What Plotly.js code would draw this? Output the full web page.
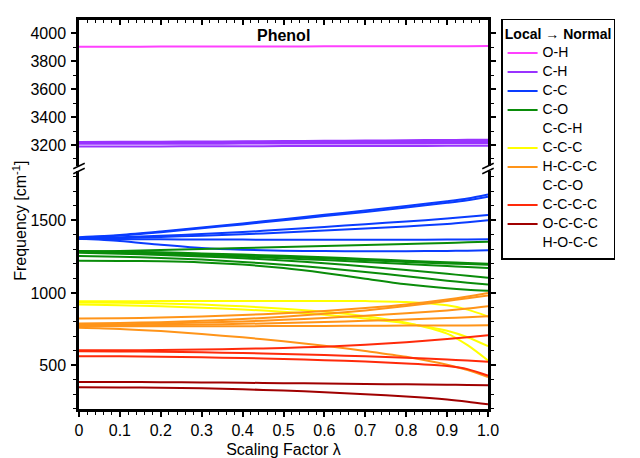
<!DOCTYPE html>
<html>
<head>
<meta charset="utf-8">
<script src="https://cdn.plot.ly/plotly-3.0.1.min.js"></script>
<style>html,body{margin:0;padding:0;background:#fff;}#chart{width:640px;height:458px;}</style>
</head>
<body>
<div id="chart"></div>
<script>
// Scaling factor grid
const LAMBDA = [0, 0.1, 0.2, 0.3, 0.4, 0.5, 0.6, 0.7, 0.8, 0.9, 0.95, 1.0];
const X_TICKS = [0, 0.1, 0.2, 0.3, 0.4, 0.5, 0.6, 0.7, 0.8, 0.9, 1.0];
const X_TICK_LABELS = ['0', '0.1', '0.2', '0.3', '0.4', '0.5', '0.6', '0.7', '0.8', '0.9', '1.0'];

// Upper panel (high frequencies)
const OH = [
  [3902,3902,3903,3903,3904,3904,3905,3905,3906,3906,3906,3907]
];
const CH = [
  [3222,3223,3224,3225,3226,3228,3230,3232,3234,3236,3237,3238],
  [3218,3219,3220,3221,3222,3223,3224,3225,3226,3228,3229,3230],
  [3214,3214,3215,3215,3216,3217,3218,3219,3220,3221,3222,3222],
  [3209,3209,3209,3209,3210,3210,3210,3211,3211,3212,3212,3212],
  [3190,3190,3190,3191,3191,3192,3192,3193,3193,3194,3195,3195]
];

// Lower panel
const CC = [
  [1385,1400,1424,1451,1479,1509,1539,1569,1600,1633,1652,1680],
  [1380,1396,1419,1446,1473,1501,1530,1559,1590,1622,1640,1664],
  [1378,1384,1394,1406,1420,1437,1455,1474,1493,1513,1525,1537],
  [1374,1378,1386,1395,1405,1417,1430,1444,1459,1476,1488,1502],
  [1372,1371,1370,1369,1368,1367,1367,1367,1367,1368,1369,1370],
  [1375,1358,1332,1310,1298,1292,1289,1288,1288,1290,1292,1295]
];
const CO = [
  [1285,1290,1296,1303,1310,1317,1324,1331,1338,1345,1349,1353],
  [1290,1286,1280,1273,1265,1256,1246,1235,1223,1212,1207,1202],
  [1288,1283,1276,1268,1259,1249,1238,1226,1214,1204,1199,1195],
  [1282,1276,1268,1260,1250,1239,1227,1214,1200,1186,1179,1172],
  [1278,1271,1262,1252,1240,1224,1205,1183,1158,1132,1119,1105],
  [1255,1250,1242,1230,1214,1195,1172,1145,1115,1085,1071,1059],
  [1222,1221,1218,1211,1196,1172,1138,1098,1060,1032,1022,1015]
];
const CCC = [
  [943,943,944,944,945,945,945,944,938,915,885,838],
  [921,916,908,898,886,870,850,824,790,740,695,633],
  [935,933,928,920,908,892,870,840,795,720,640,534]
];
const HCCC = [
  [824,826,831,838,848,860,876,896,921,955,976,1000],
  [790,793,799,808,820,836,856,880,910,945,963,983],
  [783,785,789,796,804,815,828,843,860,880,893,909],
  [776,777,779,782,787,793,800,808,817,827,833,840],
  [770,770,770,771,771,772,773,774,775,776,776,777],
  [760,752,737,717,694,667,636,600,560,505,468,420]
];
const CCCC = [
  [605,605,607,610,615,621,630,643,660,682,695,709],
  [598,597,595,591,586,580,572,563,553,541,534,526],
  [564,563,560,556,551,545,537,527,514,496,475,430]
];
const OCCC = [
  [387,386,385,383,381,378,376,373,370,367,366,364],
  [350,349,347,343,336,327,316,302,286,265,250,232]
];

// Legend labels
const LEGEND_LABELS = ['O-H','C-H','C-C','C-O','C-C-H','C-C-C','H-C-C-C','C-C-O','C-C-C-C','O-C-C-C','H-O-C-C'];

const FONT = 'Liberation Sans, Arial, sans-serif';
const traces = [];
const lbl = s => '<span style="font-size:14px">' + s + '</span>';

function addGroup(name, series, color, upper) {
  series.forEach((ys, i) => {
    traces.push({
      type: 'scatter', mode: 'lines',
      x: LAMBDA, y: ys,
      xaxis: upper ? 'x2' : 'x', yaxis: upper ? 'y2' : 'y',
      line: {color: color, width: 2, shape: 'spline', smoothing: 0.8},
      name: lbl(name), legendgroup: name, showlegend: i === 0,
      hoverinfo: 'x+y+name'
    });
  });
}
function addLabelOnly(name) {
  traces.push({
    type: 'scatter', mode: 'lines', x: [null], y: [null],
    xaxis: 'x', yaxis: 'y',
    line: {color: 'rgba(0,0,0,0)', width: 2},
    name: lbl(name), legendgroup: name, showlegend: true, hoverinfo: 'skip'
  });
}

addGroup(LEGEND_LABELS[0], OH, '#ff40ff', true);
addGroup(LEGEND_LABELS[1], CH, '#9933ff', true);
addGroup(LEGEND_LABELS[2], CC, '#0a3cff', false);
addGroup(LEGEND_LABELS[3], CO, '#0a8c0a', false);
addLabelOnly(LEGEND_LABELS[4]);
addGroup(LEGEND_LABELS[5], CCC, '#ffff00', false);
addGroup(LEGEND_LABELS[6], HCCC, '#ff9419', false);
addLabelOnly(LEGEND_LABELS[7]);
addGroup(LEGEND_LABELS[8], CCCC, '#ff2a0a', false);
addGroup(LEGEND_LABELS[9], OCCC, '#a00000', false);
addLabelOnly(LEGEND_LABELS[10]);

const LOW_RANGE = [200, 1841];
const UP_RANGE = [3050, 4093];
const LOW_DOM = [0, 0.6118];
const UP_DOM = [0.6247, 1];

const axBase = {showline: true, linecolor: '#000', linewidth: 2.5, zeroline: false, showgrid: false};
const tickF = {family: FONT, size: 16, color: '#000'};
const major = {ticklen: 5, tickwidth: 1.5, tickcolor: '#000'};
function minorT(d, dir) { return {dtick: d, ticks: dir, ticklen: 3, tickwidth: 1, tickcolor: '#000'}; }

// axis-break marks on both frame sides (paper coordinates of the plot area)
const shapes = [];
[0, 1].forEach(px => {
  [UP_DOM[0], LOW_DOM[1]].forEach(py => {
    shapes.push({type: 'line', xref: 'paper', yref: 'paper',
      x0: px - 0.014, x1: px + 0.014, y0: py - 0.007, y1: py + 0.007, line: {color: '#000', width: 1.5}});
  });
});

const layout = {
  width: 640, height: 458,
  margin: {l: 79, r: 152, t: 20, b: 49},
  paper_bgcolor: '#fff', plot_bgcolor: 'rgba(0,0,0,0)',
  font: {family: FONT, color: '#000'},
  showlegend: true,
  xaxis: Object.assign({}, axBase, major, {
    domain: [0, 1], anchor: 'y', range: [0, 1],
    tickmode: 'array', tickvals: X_TICKS, ticktext: X_TICK_LABELS,
    ticks: 'outside', minor: minorT(0.02, 'outside'),
    tickfont: tickF,
    title: {text: 'Scaling Factor λ', font: {family: FONT, size: 16}, standoff: 6}
  }),
  xaxis2: Object.assign({}, axBase, major, {
    domain: [0, 1], anchor: 'y2', side: 'top', range: [0, 1],
    tickmode: 'array', tickvals: X_TICKS,
    ticks: 'inside', minor: minorT(0.02, 'inside'),
    showticklabels: false
  }),
  yaxis: Object.assign({}, axBase, major, {
    domain: LOW_DOM, anchor: 'x', range: LOW_RANGE, dtick: 500, tick0: 0, mirror: 'ticks',
    ticks: 'outside', minor: minorT(100, 'outside'),
    tickfont: tickF, ticklabelstandoff: 2
  }),
  yaxis2: Object.assign({}, axBase, major, {
    domain: UP_DOM, anchor: 'x2', range: UP_RANGE, dtick: 200, tick0: 0, mirror: 'ticks',
    ticks: 'outside', minor: minorT(100, 'outside'),
    tickfont: tickF, ticklabelstandoff: 2
  }),
  legend: {
    x: 1.032, y: 1.003, xanchor: 'left', yanchor: 'top',
    bordercolor: '#000', borderwidth: 1.5, bgcolor: '#fff',
    font: {family: FONT, size: 11, color: '#000'},
    title: {text: '<b>Local → Normal</b>', side: 'top center', font: {family: FONT, size: 14}},
    itemwidth: 30, tracegroupgap: 0, traceorder: 'normal', maxheight: 400
  },
  shapes: shapes,
  annotations: [
    {text: '<b>Phenol</b>', xref: 'paper', yref: 'paper', x: 0.5, y: 0.961,
     xanchor: 'center', yanchor: 'middle',
     showarrow: false, font: {family: FONT, size: 16, color: '#000'}},
    {text: 'Frequency [cm<sup>-1</sup>]', xref: 'paper', yref: 'paper', x: -0.145, y: 0.483,
     xanchor: 'center', yanchor: 'middle', textangle: -90, showarrow: false,
     font: {family: FONT, size: 16, color: '#000'}}
  ]
};

Plotly.newPlot('chart', traces, layout, {displayModeBar: false});
</script>
</body>
</html>
